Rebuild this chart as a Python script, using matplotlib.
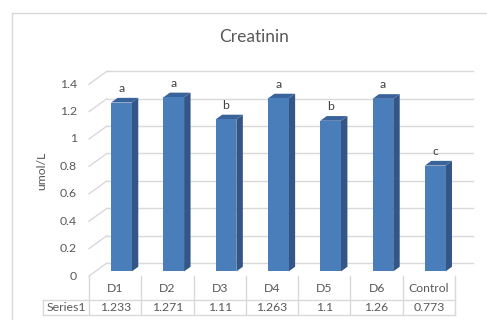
import matplotlib
matplotlib.use("Agg")
import matplotlib.pyplot as plt
from matplotlib.patches import Polygon
from matplotlib.lines import Line2D

plt.rcParams['font.family'] = ['Lato', 'DejaVu Sans']

# ---- data ----
categories = ["D1", "D2", "D3", "D4", "D5", "D6", "Control"]
values = [1.233, 1.271, 1.11, 1.263, 1.1, 1.26, 0.773]
letters = ["a", "a", "b", "a", "b", "a", "c"]
series_name = "Series1"
y_ticks = [0, 0.2, 0.4, 0.6, 0.8, 1, 1.2, 1.4]
title = "Creatinin"
y_label = "umol/L"

# ---- style ----
W, H, DPI = 487, 320, 100
grid_col = "#d9d9d9"
text_col = "#595959"
front_col = "#4a7ebb"
side_col = "#345687"
top_col = "#3b639b"
fs = 8.8

fig = plt.figure(figsize=(W / DPI, H / DPI), dpi=DPI)

# front plane of the 3D plot box (pixels)
x0_px, x1_px = 89, 455
ybase_px, ytop_px = 276, 84.2
ax = fig.add_axes([x0_px / W, 1 - ybase_px / H,
                   (x1_px - x0_px) / W, (ybase_px - ytop_px) / H])
n = len(categories)
ax.set_xlim(-0.5, n - 0.5)
ax.set_ylim(0, 1.4)
ax.axis("off")

px_x = (x1_px - x0_px) / n          # pixels per category
px_y = (ybase_px - ytop_px) / 1.4   # pixels per value unit

# oblique depth vector (data units)
DX = 18 / px_x
DY = 13 / px_y
f0, f1 = 0.35, 0.71                 # bar depth span (fraction of floor depth)
bw = 20.7 / px_x                    # bar width

xl, xr = -0.5, n - 0.5

# back wall gridlines and side wall lines
for t in y_ticks:
    ax.add_line(Line2D([xl + DX, xr + DX], [t + DY, t + DY], color=grid_col,
                       lw=1.0, clip_on=False, zorder=1))
    ax.add_line(Line2D([xl, xl + DX], [t, t + DY], color=grid_col,
                       lw=1.0, clip_on=False, zorder=1))
    ax.annotate(f"{t:g}", xy=(xl, t), xytext=(-12, 0), textcoords="offset pixels",
                ha="right", va="center", fontsize=fs, color=text_col,
                annotation_clip=False)

# 3D columns
for i, v in enumerate(values):
    a = i - bw / 2
    b = i + bw / 2
    front = [(a + f0 * DX, f0 * DY), (b + f0 * DX, f0 * DY),
             (b + f0 * DX, v + f0 * DY), (a + f0 * DX, v + f0 * DY)]
    side = [(b + f0 * DX, f0 * DY), (b + f1 * DX, f1 * DY),
            (b + f1 * DX, v + f1 * DY), (b + f0 * DX, v + f0 * DY)]
    top = [(a + f0 * DX, v + f0 * DY), (b + f0 * DX, v + f0 * DY),
           (b + f1 * DX, v + f1 * DY), (a + f1 * DX, v + f1 * DY)]
    ax.add_patch(Polygon(side, closed=True, fc=side_col, ec="none", clip_on=False, zorder=3))
    ax.add_patch(Polygon(top, closed=True, fc=top_col, ec="none", clip_on=False, zorder=3))
    ax.add_patch(Polygon(front, closed=True, fc=front_col, ec="none", clip_on=False, zorder=4))
    ax.annotate(letters[i], xy=(i + f0 * DX, v + f0 * DY), xytext=(0, 14),
                textcoords="offset pixels", ha="center", va="center",
                fontsize=fs, color="#404040", annotation_clip=False)

# data table below the plot
row1 = -24 / px_y
row2 = -39 / px_y
lab_left = xl - 46 / px_x
tbl = dict(color=grid_col, lw=1.0, clip_on=False, zorder=1)
ax.add_line(Line2D([lab_left, xr], [row1, row1], **tbl))
ax.add_line(Line2D([lab_left, xr], [row2, row2], **tbl))
ax.add_line(Line2D([lab_left, lab_left], [row1, row2], **tbl))
for k in range(n + 1):
    ax.add_line(Line2D([xl + k, xl + k], [0, row2], **tbl))
for i, c in enumerate(categories):
    ax.text(i, row1 / 2, c, ha="center", va="center", fontsize=fs,
            color=text_col, clip_on=False)
    ax.text(i, (row1 + row2) / 2, f"{values[i]:g}", ha="center", va="center",
            fontsize=fs, color=text_col, clip_on=False)
ax.text((lab_left + xl) / 2, (row1 + row2) / 2, series_name, ha="center",
        va="center", fontsize=fs, color=text_col, clip_on=False)

# titles
fig.text(254 / W, 1 - 37 / H, title, ha="center", va="center", fontsize=12.5,
         color=text_col)
fig.text(42 / W, 1 - 171 / H, y_label, ha="center", va="center", rotation=90,
         fontsize=fs, color=text_col)

# chart area border
fig.add_artist(Line2D([11.5 / W, 11.5 / W], [0, 1 - 13 / H], color=grid_col,
                      lw=1.0, transform=fig.transFigure))
fig.add_artist(Line2D([11.5 / W, 1], [1 - 13 / H, 1 - 13 / H], color=grid_col,
                      lw=1.0, transform=fig.transFigure))

fig.savefig("out.png", dpi=DPI)
